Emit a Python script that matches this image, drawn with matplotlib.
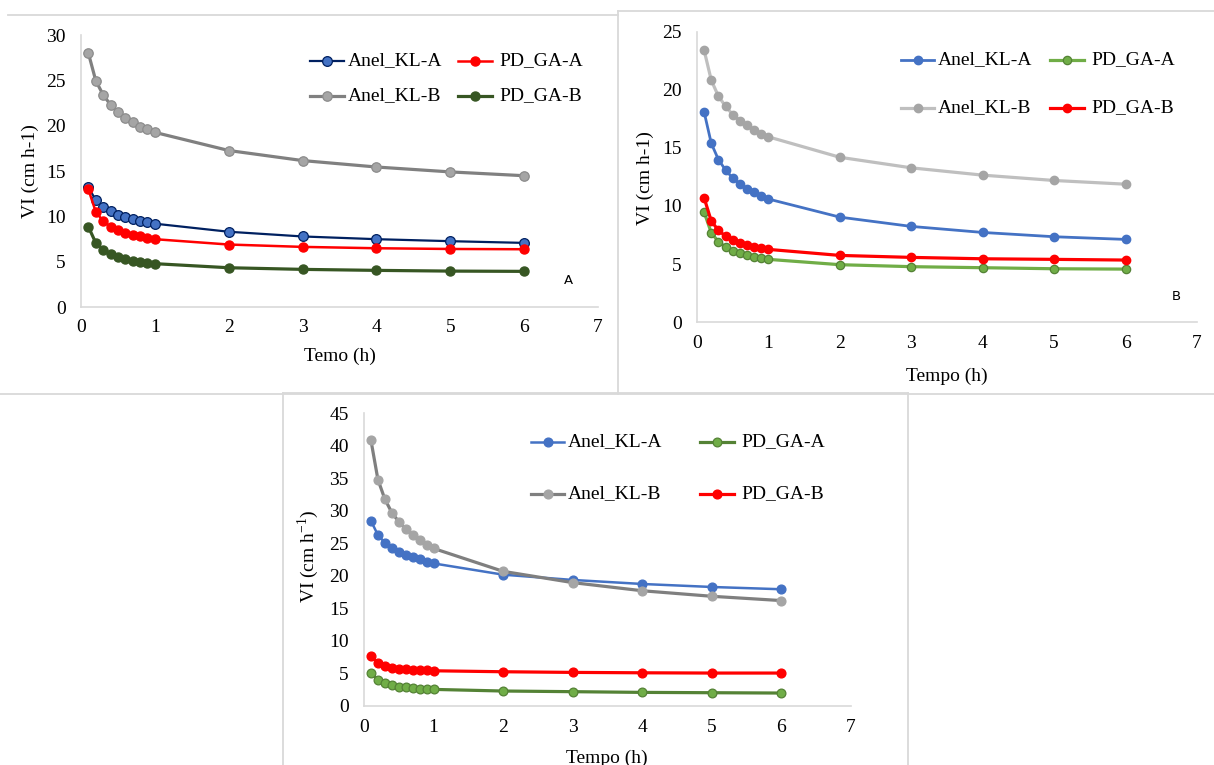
import matplotlib
matplotlib.use("Agg")
import matplotlib.pyplot as plt
from matplotlib.lines import Line2D

plt.rcParams['font.family'] = ['Liberation Serif', 'DejaVu Serif']
plt.rcParams['mathtext.fontset'] = 'custom'
plt.rcParams['mathtext.rm'] = 'Liberation Serif'

W, H = 1214, 765

# ---------------- data ----------------
time_h = [0.1, 0.2, 0.3, 0.4, 0.5, 0.6, 0.7, 0.8, 0.9, 1.0, 2, 3, 4, 5, 6]
x_ticks = [0, 1, 2, 3, 4, 5, 6, 7]

# Panel A
a_anel_kl_a = [13.2, 11.8, 11.0, 10.6, 10.2, 9.93, 9.7, 9.48, 9.33, 9.19, 8.3, 7.78, 7.48, 7.26, 7.07]
a_pd_ga_a = [12.96, 10.5, 9.48, 8.85, 8.44, 8.19, 7.96, 7.78, 7.63, 7.48, 6.89, 6.63, 6.48, 6.4, 6.37]
a_anel_kl_b = [28.0, 24.96, 23.4, 22.3, 21.5, 20.9, 20.4, 19.9, 19.6, 19.26, 17.26, 16.15, 15.44, 14.9, 14.48]
a_pd_ga_b = [8.85, 7.07, 6.33, 5.85, 5.52, 5.3, 5.11, 4.96, 4.89, 4.78, 4.33, 4.15, 4.04, 3.96, 3.93]

# Panel B
b_anel_kl_a = [18.1, 15.4, 14.0, 13.1, 12.4, 11.9, 11.5, 11.2, 10.9, 10.6, 9.04, 8.24, 7.72, 7.35, 7.12]
b_pd_ga_a = [9.47, 7.69, 6.92, 6.46, 6.14, 5.91, 5.74, 5.6, 5.48, 5.4, 4.94, 4.77, 4.68, 4.59, 4.56]
b_anel_kl_b = [23.42, 20.84, 19.46, 18.6, 17.88, 17.37, 16.94, 16.56, 16.25, 15.96, 14.2, 13.29, 12.66, 12.2, 11.88]
b_pd_ga_b = [10.7, 8.7, 7.9, 7.4, 7.06, 6.8, 6.63, 6.49, 6.37, 6.26, 5.74, 5.57, 5.45, 5.4, 5.34]

# Panel C
c_anel_kl_a = [28.45, 26.25, 25.08, 24.3, 23.7, 23.19, 22.83, 22.52, 22.17, 21.9, 20.17, 19.36, 18.74, 18.28, 17.93]
c_pd_ga_a = [5.06, 4.03, 3.47, 3.17, 2.96, 2.86, 2.76, 2.66, 2.6, 2.55, 2.3, 2.2, 2.09, 2.04, 1.99]
c_anel_kl_b = [40.8, 34.78, 31.76, 29.7, 28.3, 27.2, 26.2, 25.45, 24.8, 24.2, 20.68, 18.95, 17.7, 16.85, 16.19]
c_pd_ga_b = [7.61, 6.64, 6.13, 5.87, 5.72, 5.62, 5.57, 5.52, 5.46, 5.41, 5.26, 5.16, 5.1, 5.06, 5.06]

labels = ['Anel_KL-A', 'PD_GA-A', 'Anel_KL-B', 'PD_GA-B']

# ---------------- helpers ----------------
def fx(px):
    return px / W

def fy(py):
    return 1 - py / H

fig = plt.figure(figsize=(W / 100, H / 100), dpi=100)

BORDER = '#D9D9D9'
for xs, ys in [([8, 617.5], [15, 15]), ([617.5, 1214], [11, 11]), ([617.5, 617.5], [11, 394]),
               ([0, 1214], [394, 394]), ([282.5, 282.5], [393, 765]), ([908, 908], [393, 765]),
               ([282.5, 908], [393, 393])]:
    fig.add_artist(Line2D([fx(v) for v in xs], [fy(v) for v in ys], transform=fig.transFigure,
                          color=BORDER, lw=1.3))

def make_axes(x0, x7, y0, ytop, ymax, ystep):
    ax = fig.add_axes([fx(x0), fy(y0), fx(x7) - fx(x0), fy(ytop) - fy(y0)])
    ax.set_xlim(0, 7)
    ax.set_ylim(0, ymax)
    ax.set_xticks(x_ticks)
    ax.set_yticks(list(range(0, ymax + 1, ystep)))
    for s in ['top', 'right']:
        ax.spines[s].set_visible(False)
    for s in ['left', 'bottom']:
        ax.spines[s].set_color(BORDER)
        ax.spines[s].set_linewidth(1.2)
    ax.tick_params(length=0, labelsize=14, colors='#000000')
    ax.tick_params(axis='y', pad=11)
    ax.tick_params(axis='x', pad=9)
    ax.patch.set_alpha(0)
    return ax

def legend_entry(x0, x1, y, tx, label, st):
    fig.add_artist(Line2D([fx(x0), fx((x0 + x1) / 2), fx(x1)], [fy(y)] * 3, transform=fig.transFigure,
                          markevery=[1], **st))
    fig.text(fx(tx), fy(y), label, ha='left', va='center', fontsize=14)

def draw_panel(ax, series, styles, leg):
    for vals, st in zip(series, styles):
        ax.plot(time_h, vals, **st)
    (c1x0, c1x1, c1t), (c2x0, c2x1, c2t), (r1, r2) = leg
    pos = [(c1x0, c1x1, r1, c1t), (c2x0, c2x1, r1, c2t), (c1x0, c1x1, r2, c1t), (c2x0, c2x1, r2, c2t)]
    for (x0, x1, y, tx), lab, st in zip(pos, labels, styles):
        legend_entry(x0, x1, y, tx, lab, st)

# ---------------- Panel A ----------------
axA = make_axes(81, 598, 307, 35, 30, 5)
stA = [
    dict(color='#002060', lw=1.6, marker='o', ms=7, mfc='#4472C4', mec='#002060', mew=0.9),
    dict(color='#FF0000', lw=1.8, marker='o', ms=6.5, mfc='#FF0000', mec='#FF0000'),
    dict(color='#808080', lw=2.3, marker='o', ms=6.8, mfc='#A5A5A5', mec='#8C8C8C', mew=0.9),
    dict(color='#375623', lw=2.3, marker='o', ms=6.5, mfc='#375623', mec='#375623'),
]
draw_panel(axA, [a_anel_kl_a, a_pd_ga_a, a_anel_kl_b, a_pd_ga_b], stA,
           ((310, 344, 348), (458, 492, 499), (61, 96)))
fig.text(fx(30), fy(171), 'VI (cm h-1)', rotation=90, ha='center', va='center', fontsize=14)
fig.text(fx(340), fy(356), 'Temo (h)', ha='center', va='center', fontsize=14)
fig.text(fx(568), fy(280), 'A', ha='center', va='center', fontsize=9.5, family=['DejaVu Sans'])

# ---------------- Panel B ----------------
axB = make_axes(697, 1197, 322, 32, 25, 5)
stB = [
    dict(color='#4472C4', lw=2.0, marker='o', ms=6, mfc='#4472C4', mec='#4472C4'),
    dict(color='#70AD47', lw=2.3, marker='o', ms=6, mfc='#70AD47', mec='#548235', mew=0.9),
    dict(color='#BFBFBF', lw=2.3, marker='o', ms=6, mfc='#A5A5A5', mec='#A5A5A5'),
    dict(color='#FF0000', lw=2.3, marker='o', ms=6, mfc='#FF0000', mec='#FF0000'),
]
draw_panel(axB, [b_anel_kl_a, b_pd_ga_a, b_anel_kl_b, b_pd_ga_b], stB,
           ((901, 934, 938), (1050, 1084, 1091), (60, 108)))
fig.text(fx(645), fy(178), 'VI (cm h-1)', rotation=90, ha='center', va='center', fontsize=14)
fig.text(fx(947), fy(376), 'Tempo (h)', ha='center', va='center', fontsize=14)
fig.text(fx(1176), fy(297), 'B', ha='center', va='center', fontsize=9.5, family=['DejaVu Sans'])

# ---------------- Panel C ----------------
axC = make_axes(364, 851, 706, 413, 45, 5)
stC = [
    dict(color='#4472C4', lw=1.8, marker='o', ms=6.3, mfc='#4472C4', mec='#4472C4'),
    dict(color='#548235', lw=2.3, marker='o', ms=6.3, mfc='#70AD47', mec='#548235', mew=0.9),
    dict(color='#7F7F7F', lw=2.3, marker='o', ms=6.3, mfc='#A5A5A5', mec='#A5A5A5'),
    dict(color='#FF0000', lw=2.3, marker='o', ms=6.3, mfc='#FF0000', mec='#FF0000'),
]
draw_panel(axC, [c_anel_kl_a, c_pd_ga_a, c_anel_kl_b, c_pd_ga_b], stC,
           ((531, 564, 568), (700, 734, 741), (442, 494)))
fig.text(fx(308), fy(556), r'VI (cm h$^{\mathregular{-1}}$)', rotation=90, ha='center', va='center', fontsize=14)
fig.text(fx(607), fy(758), 'Tempo (h)', ha='center', va='center', fontsize=14)

fig.savefig('out.png', dpi=100)
